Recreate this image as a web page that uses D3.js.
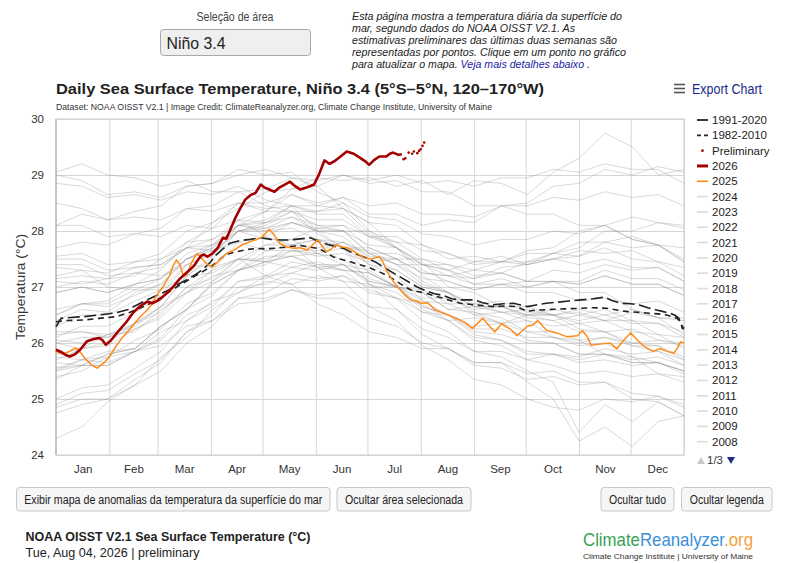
<!DOCTYPE html>
<html>
<head>
<meta charset="utf-8">
<script src="https://cdnjs.cloudflare.com/ajax/libs/d3/7.8.5/d3.min.js"></script>
<style>
  body { margin: 0; background: #fff; }
  svg { font-family: "Liberation Sans", Arial, sans-serif; display: block; }
</style>
</head>
<body>
<div id="chart"></div>
<script>
// ---- data (day of year, °C) ----
const monthNames = ["Jan","Feb","Mar","Apr","May","Jun","Jul","Aug","Sep","Oct","Nov","Dec"];
const monthStarts = [0,31,59,90,120,151,181,212,243,273,304,334,365];
const yTicks = [24,25,26,27,28,29,30];

const sst2026 = [[0,25.88],[3,25.84],[6,25.78],[8,25.76],[11,25.8],[14,25.88],[18,26.03],[22,26.07],[25,26.09],[27,26.05],[29,25.97],[32,26.05],[36,26.2],[41,26.38],[45,26.55],[49,26.66],[53,26.74],[56,26.71],[60,26.77],[64,26.88],[68,27.0],[72,27.15],[76,27.26],[80,27.37],[84,27.55],[86,27.58],[88,27.54],[91,27.6],[94,27.7],[97,27.88],[99,27.86],[101,28.0],[104,28.22],[107,28.4],[110,28.56],[113,28.64],[116,28.68],[119,28.83],[121,28.78],[124,28.74],[127,28.7],[130,28.78],[133,28.83],[136,28.88],[139,28.8],[142,28.74],[146,28.78],[150,28.83],[153,29.02],[156,29.26],[159,29.2],[162,29.25],[165,29.32],[169,29.42],[173,29.38],[177,29.3],[180,29.24],[182,29.18],[185,29.27],[188,29.33],[192,29.33],[194,29.38],[196,29.4],[199,29.36],[201,29.37]];
const prelim2026 = [[202,29.28],[203,29.3],[205,29.4],[207,29.38],[208,29.42],[210,29.39],[211,29.43],[212,29.46],[213,29.52],[214,29.58]];

const sst2025 = [[0,25.85],[4,25.8],[8,25.85],[11,25.91],[13,25.88],[17,25.72],[21,25.6],[24,25.55],[28,25.65],[31,25.75],[35,25.95],[39,26.11],[43,26.25],[47,26.4],[50,26.5],[53,26.59],[56,26.7],[58,26.83],[62,27.0],[66,27.2],[68,27.38],[70,27.48],[72,27.4],[74,27.2],[76,27.22],[79,27.45],[82,27.6],[85,27.5],[88,27.4],[91,27.36],[95,27.48],[99,27.6],[103,27.65],[108,27.75],[113,27.81],[117,27.85],[120,27.9],[124,28.03],[127,27.92],[130,27.78],[134,27.72],[138,27.69],[142,27.7],[146,27.66],[149,27.75],[152,27.84],[155,27.72],[157,27.63],[160,27.68],[163,27.75],[166,27.72],[169,27.7],[172,27.66],[175,27.6],[179,27.52],[183,27.5],[188,27.54],[190,27.45],[192,27.3],[196,27.1],[200,26.95],[203,26.85],[206,26.77],[210,26.75],[212,26.71],[216,26.72],[220,26.6],[223,26.56],[228,26.5],[233,26.44],[238,26.36],[242,26.26],[245,26.35],[248,26.44],[252,26.3],[255,26.2],[259,26.34],[264,26.25],[268,26.13],[271,26.22],[274,26.3],[277,26.32],[280,26.4],[285,26.23],[291,26.18],[297,26.11],[303,26.13],[306,26.22],[309,26.1],[311,25.96],[316,25.98],[322,26.0],[326,25.9],[330,26.05],[334,26.18],[338,26.05],[341,25.96],[344,25.9],[347,25.85],[351,25.9],[355,25.85],[359,25.82],[361,25.9],[363,26.02],[365,26.0]];

const clim9120 = [[0,26.29],[3,26.44],[10,26.46],[16,26.47],[25,26.5],[35,26.54],[42,26.6],[47,26.68],[55,26.8],[60,26.87],[66,26.95],[71,27.05],[76,27.13],[81,27.22],[86,27.33],[90,27.45],[93,27.57],[97,27.68],[101,27.78],[107,27.83],[113,27.85],[119,27.88],[125,27.85],[130,27.84],[136,27.84],[142,27.86],[148,27.88],[153,27.81],[158,27.76],[163,27.72],[168,27.68],[171,27.63],[176,27.57],[181,27.51],[186,27.44],[190,27.36],[195,27.27],[200,27.18],[205,27.09],[210,27.0],[215,26.93],[220,26.88],[225,26.85],[230,26.79],[235,26.77],[243,26.77],[248,26.72],[254,26.68],[260,26.7],[266,26.71],[270,26.68],[274,26.65],[279,26.68],[285,26.71],[292,26.73],[298,26.75],[305,26.77],[312,26.79],[319,26.82],[323,26.76],[328,26.71],[334,26.7],[339,26.68],[344,26.63],[349,26.59],[353,26.56],[357,26.53],[360,26.49],[362,26.44],[364,26.29],[365,26.27]];
const clim8210 = [[0,26.38],[5,26.4],[16,26.41],[25,26.44],[35,26.47],[43,26.55],[51,26.65],[57,26.74],[62,26.83],[66,26.92],[70,27.0],[75,27.09],[80,27.18],[85,27.27],[90,27.36],[97,27.54],[101,27.6],[105,27.63],[111,27.67],[117,27.69],[122,27.68],[130,27.7],[136,27.72],[142,27.74],[148,27.71],[152,27.69],[157,27.62],[161,27.54],[166,27.49],[171,27.45],[176,27.4],[181,27.36],[188,27.27],[194,27.18],[200,27.06],[206,26.95],[210,26.92],[215,26.89],[220,26.84],[225,26.8],[230,26.75],[235,26.71],[243,26.68],[248,26.67],[254,26.65],[261,26.66],[268,26.65],[274,26.56],[277,26.58],[281,26.59],[288,26.6],[296,26.61],[305,26.62],[312,26.63],[320,26.62],[326,26.59],[332,26.56],[338,26.55],[345,26.53],[350,26.52],[355,26.5],[361,26.44],[363,26.38],[364,26.26],[365,26.25]];

// earlier years, read roughly every ~15 days
const grayDays = [0,15,30,46,61,76,91,106,122,137,152,167,182,198,213,228,243,259,274,289,304,319,335,350,365];
const grayYears = [1982,1983,1984,1985,1986,1987,1988,1989,1990,1991,1992,1993,1994,1995,1996,1997,1998,1999,2000,2001,2002,2003,2004,2005,2006,2007,2008,2009,2010,2011,2012,2013,2014,2015,2016,2017,2018,2019,2020,2021,2022,2023,2024];
const grayTemps = [
  [26.4,26.6,26.55,26.9,27.05,27.5,27.75,28.2,28.35,28.65,28.5,28.6,28.3,28.3,28.1,28.2,28.15,28.45,28.5,28.8,28.85,29.1,29.0,29.15,29.05],
  [29.0,28.9,28.65,28.7,28.6,28.8,28.85,29.1,29.0,29.05,28.7,28.5,28.0,27.7,27.2,26.9,26.5,26.35,26.05,26.0,25.8,25.8,25.7,25.75,25.6],
  [26.0,25.9,26.15,26.3,26.65,26.9,27.2,27.3,27.45,27.35,27.45,27.3,27.25,27.0,26.95,26.7,26.7,26.55,26.4,26.1,26.05,25.8,25.75,25.45,25.4],
  [25.4,25.5,25.75,25.85,26.2,26.4,26.75,26.9,27.1,27.05,27.2,27.1,27.05,26.8,26.7,26.4,26.45,26.35,26.5,26.4,26.5,26.4,26.4,26.15,26.1],
  [26.05,26.0,26.15,26.2,26.6,26.9,27.3,27.5,27.75,27.75,27.85,27.7,27.7,27.5,27.5,27.3,27.45,27.45,27.6,27.6,27.8,27.8,27.9,27.75,27.7],
  [27.7,27.8,27.75,27.95,28.05,28.4,28.45,28.7,28.75,28.95,28.9,29.0,28.85,28.9,28.7,28.7,28.45,28.45,28.3,28.3,28.1,28.1,27.85,27.75,27.45],
  [27.4,27.4,27.2,27.25,27.2,27.4,27.35,27.5,27.2,27.05,26.7,26.5,26.2,26.1,25.9,25.9,25.65,25.65,25.3,25.0,24.25,24.5,24.15,24.6,24.7],
  [24.3,24.5,24.95,25.25,25.75,26.1,26.6,26.9,27.2,27.25,27.4,27.3,27.25,27.0,26.9,26.6,26.65,26.55,26.6,26.5,26.6,26.5,26.6,26.45,26.4],
  [26.5,26.7,26.7,26.95,27.15,27.6,27.75,28.1,28.05,28.15,28.0,28.0,27.75,27.7,27.4,27.3,27.15,27.25,27.1,27.1,27.05,27.2,27.05,27.05,26.85],
  [26.9,27.0,26.9,27.05,27.15,27.5,27.7,28.1,28.2,28.45,28.35,28.4,28.15,28.1,27.75,27.6,27.4,27.45,27.45,27.6,27.7,28.0,28.0,28.15,28.05],
  [28.1,28.3,28.2,28.35,28.45,28.8,28.85,29.0,29.1,28.95,28.8,28.4,28.15,27.7,27.45,27.0,26.9,26.65,26.65,26.5,26.55,26.4,26.55,26.45,26.45],
  [26.5,26.7,26.75,27.05,27.3,27.8,28.05,28.5,28.5,28.65,28.45,28.4,27.95,27.7,27.4,27.3,27.05,27.05,26.9,26.9,26.75,26.8,26.7,26.75,26.55],
  [26.6,26.7,26.65,26.85,27.05,27.5,27.7,28.1,28.15,28.35,28.2,28.2,27.9,27.8,27.5,27.4,27.3,27.45,27.4,27.5,27.55,27.8,27.7,27.75,27.5],
  [27.55,27.6,27.4,27.45,27.5,27.8,27.85,28.1,28.0,28.05,27.85,27.8,27.4,27.2,26.75,26.5,26.15,26.05,25.8,25.8,25.7,25.8,25.65,25.65,25.5],
  [25.55,25.6,25.8,25.9,26.3,26.6,27.05,27.3,27.55,27.55,27.6,27.4,27.3,27.0,26.9,26.6,26.55,26.35,26.4,26.3,26.35,26.2,26.25,26.05,26.0],
  [26.0,26.1,26.1,26.35,26.65,27.2,27.55,28.1,28.35,28.75,28.8,29.0,28.9,29.0,28.85,28.9,28.8,28.95,28.95,29.1,29.05,29.2,29.1,29.1,28.85],
  [28.85,28.8,28.6,28.65,28.55,28.7,28.65,28.8,28.55,28.45,28.0,27.7,27.05,26.6,26.15,25.9,25.6,25.55,25.35,25.4,25.25,25.3,25.1,25.05,24.85],
  [24.9,25.1,25.15,25.45,25.7,26.2,26.4,26.8,26.8,26.95,26.8,26.8,26.45,26.3,26.0,25.9,25.65,25.65,25.45,25.5,25.3,25.3,25.0,24.95,24.7],
  [24.75,24.9,25.0,25.35,25.65,26.2,26.5,27.0,27.05,27.25,27.15,27.2,26.9,26.8,26.55,26.5,26.3,26.35,26.2,26.2,26.05,26.1,25.95,25.95,25.75],
  [25.8,25.9,25.95,26.25,26.45,26.9,27.1,27.5,27.5,27.65,27.6,27.7,27.4,27.3,27.0,26.9,26.65,26.65,26.5,26.5,26.4,26.5,26.35,26.35,26.2],
  [26.3,26.5,26.5,26.75,26.95,27.4,27.6,28.0,28.1,28.35,28.35,28.5,28.25,28.2,27.95,27.9,27.75,27.85,27.85,28.0,27.95,28.1,27.85,27.75,27.45],
  [27.5,27.5,27.3,27.35,27.4,27.7,27.65,27.8,27.65,27.65,27.55,27.6,27.45,27.5,27.25,27.2,27.05,27.15,27.0,27.1,27.05,27.2,27.05,27.05,26.85],
  [26.9,27.0,26.9,27.05,27.15,27.5,27.65,28.0,28.0,28.15,28.05,28.1,27.9,27.9,27.65,27.6,27.45,27.55,27.4,27.5,27.4,27.5,27.35,27.35,27.1],
  [27.15,27.2,27.15,27.35,27.4,27.7,27.85,28.2,28.15,28.25,28.0,27.9,27.5,27.3,27.0,26.9,26.7,26.75,26.55,26.5,26.25,26.2,25.95,25.85,25.6],
  [25.65,25.6,25.8,25.9,26.3,26.6,27.05,27.3,27.65,27.75,27.85,27.7,27.65,27.4,27.4,27.2,27.3,27.25,27.45,27.5,27.65,27.6,27.65,27.45,27.35],
  [27.35,27.3,27.0,26.95,26.95,27.2,27.25,27.5,27.45,27.55,27.35,27.3,26.95,26.8,26.4,26.2,25.85,25.75,25.5,25.3,24.4,24.9,24.6,24.95,24.7],
  [24.85,25.0,25.0,25.25,25.5,26.0,26.3,26.8,26.9,27.15,27.1,27.2,27.0,27.0,26.8,26.8,26.6,26.65,26.45,26.4,26.2,26.2,26.0,25.95,25.7],
  [25.75,25.7,25.85,25.9,26.3,26.6,27.1,27.4,27.75,27.85,28.05,28.0,28.0,27.8,27.75,27.5,27.55,27.45,27.65,27.7,28.0,28.1,28.25,28.15,28.1],
  [28.1,28.1,27.9,27.95,27.9,28.1,28.05,28.2,27.9,27.75,27.35,27.1,26.65,26.4,25.95,25.7,25.35,25.25,25.0,24.85,24.8,25.0,24.95,25.05,24.9],
  [25.0,25.2,25.25,25.55,25.85,26.4,26.65,27.1,27.15,27.35,27.3,27.4,27.05,26.9,26.55,26.4,26.1,26.05,25.85,25.8,25.65,25.7,25.6,25.65,25.5],
  [25.55,25.7,25.75,26.05,26.25,26.7,26.9,27.3,27.4,27.65,27.65,27.8,27.6,27.6,27.4,27.4,27.2,27.25,27.1,27.1,26.9,26.9,26.6,26.45,26.15],
  [26.2,26.2,26.15,26.35,26.55,27.0,27.15,27.5,27.45,27.55,27.4,27.4,27.1,27.0,26.75,26.7,26.5,26.55,26.5,26.6,26.5,26.6,26.4,26.35,26.1],
  [26.15,26.2,26.1,26.25,26.5,27.0,27.3,27.8,27.9,28.15,28.0,28.0,27.6,27.4,27.15,27.1,26.95,27.05,27.1,27.3,27.25,27.4,27.3,27.35,27.1],
  [27.1,27.05,27.15,27.2,27.5,27.7,28.15,28.4,28.7,28.75,28.95,28.9,28.95,28.8,28.9,28.65,28.9,28.85,28.65,29.05,29.3,29.75,29.5,29.0,29.1],
  [29.05,29.2,29.0,28.95,28.8,28.9,28.7,28.7,28.45,28.35,27.95,27.7,27.25,27.0,26.65,26.5,26.25,26.25,26.1,26.1,26.0,26.1,26.0,26.05,25.95],
  [26.1,26.3,26.3,26.55,26.85,27.4,27.6,28.0,28.05,28.25,28.1,28.1,27.7,27.5,27.1,26.9,26.55,26.45,26.2,26.1,25.95,26.0,25.75,25.65,25.45],
  [25.5,25.7,25.65,25.85,26.1,26.6,26.85,27.3,27.45,27.75,27.7,27.8,27.55,27.5,27.25,27.2,27.15,27.35,27.4,27.6,27.55,27.7,27.5,27.45,27.2],
  [27.2,27.3,27.25,27.45,27.6,28.0,28.15,28.5,28.4,28.45,28.3,28.3,27.9,27.7,27.3,27.1,26.95,27.05,27.0,27.1,27.1,27.3,27.15,27.15,26.95],
  [27.0,27.1,27.05,27.25,27.35,27.7,27.75,28.0,27.85,27.85,27.6,27.5,27.15,27.0,26.6,26.4,26.05,25.95,25.7,25.6,25.45,25.5,25.4,25.45,25.3],
  [25.35,25.6,25.6,25.85,26.05,26.5,26.7,27.1,27.2,27.45,27.35,27.4,27.1,27.0,26.65,26.5,26.2,26.15,26.0,26.0,25.8,25.8,25.65,25.65,25.5],
  [25.5,25.6,25.6,25.85,25.95,26.3,26.4,26.7,26.75,26.95,26.85,26.9,26.65,26.6,26.25,26.1,25.85,25.85,25.7,25.8,25.75,25.9,25.8,25.85,25.7],
  [25.7,25.9,26.0,26.35,26.65,27.2,27.5,28.0,28.15,28.45,28.45,28.6,28.45,28.5,28.3,28.3,28.25,28.45,28.45,28.6,28.55,28.7,28.6,28.65,28.45],
  [28.5,28.4,28.2,28.25,28.2,28.4,28.35,28.5,28.35,28.35,28.1,28.0,27.6,27.4,27.05,26.9,26.65,26.65,26.5,26.5,26.35,26.4,26.2,26.15,25.9]
];

const legendItems = ["1991-2020","1982-2010","Preliminary","2026","2025","2024","2023","2022","2021","2020","2019","2018","2017","2016","2015","2014","2013","2012","2011","2010","2009","2008"];

// ---- layout ----
const W = 790, H = 563;
const plot = { left: 56, right: 684, top: 119, bottom: 455 };

const svg = d3.select("#chart").append("svg").attr("width", W).attr("height", H);

const x = d3.scaleLinear().domain([0, 365]).range([plot.left, plot.right]);
const y = d3.scaleLinear().domain([24, 30]).range([plot.bottom, plot.top]);

// small helper for fixed-width texts
function label(xx, yy, str, size, width, opts = {}) {
  const t = svg.append("text").attr("x", xx).attr("y", yy).attr("font-size", size)
    .attr("fill", opts.fill || "#222").text(str);
  if (width) t.attr("textLength", width).attr("lengthAdjust", "spacingAndGlyphs");
  if (opts.bold) t.attr("font-weight", "bold");
  if (opts.italic) t.attr("font-style", "italic");
  if (opts.anchor) t.attr("text-anchor", opts.anchor);
  return t;
}

// header: area selector + description
label(235, 20.5, "Seleção de área", 12, 77, { fill: "#444", anchor: "middle" });
svg.append("rect").attr("x", 160.5).attr("y", 29.5).attr("width", 150).attr("height", 26).attr("rx", 3)
  .attr("fill", "#efefef").attr("stroke", "#a9a9a9");
label(166.5, 48.5, "Niño 3.4", 17, 59);

const descLines = [
  ["Esta página mostra a temperatura diária da superfície do", 270],
  ["mar, segundo dados do NOAA OISST V2.1. As", 223],
  ["estimativas preliminares das últimas duas semanas são", 265],
  ["representadas por pontos. Clique em um ponto no gráfico", 274]
];
descLines.forEach(([t, w], i) => label(352, 20 + i * 12, t, 11, w, { italic: true }));
const last = label(352, 68, "", 11, 238, { italic: true });
last.append("tspan").text("para atualizar o mapa. ");
last.append("tspan").attr("fill", "#1a1aa6").text("Veja mais detalhes abaixo");
last.append("tspan").text(" .");

// chart title
label(56, 94, "Daily Sea Surface Temperature, Niño 3.4 (5°S–5°N, 120–170°W)", 15.5, 488, { bold: true });
label(56, 110, "Dataset: NOAA OISST V2.1 | Image Credit: ClimateReanalyzer.org, Climate Change Institute, University of Maine", 9.5, 436, { fill: "#333" });

// export menu
[84.5, 88.5, 92.5].forEach(yy => {
  svg.append("line").attr("x1", 674).attr("x2", 685).attr("y1", yy).attr("y2", yy)
    .attr("stroke", "#555").attr("stroke-width", 1.6);
});
label(692, 94, "Export Chart", 14, 70, { fill: "#1c2a8a" });

// grid
svg.append("g")
  .attr("transform", `translate(0,${plot.bottom})`)
  .call(d3.axisBottom(x).tickValues(monthStarts).tickSize(-(plot.bottom - plot.top)).tickFormat(""))
  .call(g => g.select(".domain").remove())
  .call(g => g.selectAll("line").attr("stroke", "#d6d6d6"));

svg.append("g")
  .attr("transform", `translate(${plot.left},0)`)
  .call(d3.axisLeft(y).tickValues(yTicks).tickSize(-(plot.right - plot.left)).tickFormat(""))
  .call(g => g.select(".domain").remove())
  .call(g => g.selectAll("line").attr("stroke", "#d6d6d6"));

svg.append("rect").attr("x", plot.left).attr("y", plot.top)
  .attr("width", plot.right - plot.left).attr("height", plot.bottom - plot.top)
  .attr("fill", "none").attr("stroke", "#cfcfcf");
svg.append("line").attr("x1", plot.left).attr("x2", plot.left).attr("y1", plot.top).attr("y2", plot.bottom)
  .attr("stroke", "#c4c4c4").attr("stroke-width", 2);

// axes labels
svg.append("g")
  .attr("transform", `translate(${plot.left - 9},0)`)
  .call(d3.axisLeft(y).tickValues(yTicks).tickSize(0).tickFormat(d3.format("d")))
  .call(g => g.select(".domain").remove())
  .call(g => g.selectAll("text").attr("font-size", 11.5).attr("fill", "#333")
    .attr("font-family", "'Liberation Sans', Arial, sans-serif"));

const monthMids = monthNames.map((m, i) => (monthStarts[i] + monthStarts[i + 1]) / 2);
svg.append("g")
  .attr("transform", `translate(0,${plot.bottom + 7})`)
  .call(d3.axisBottom(x).tickValues(monthMids).tickSize(0).tickFormat((d, i) => monthNames[i]))
  .call(g => g.select(".domain").remove())
  .call(g => g.selectAll("text").attr("font-size", 11.5).attr("fill", "#333")
    .attr("font-family", "'Liberation Sans', Arial, sans-serif"));

svg.append("text")
  .attr("transform", "translate(25,287) rotate(-90)")
  .attr("text-anchor", "middle").attr("font-size", 13.5).attr("fill", "#333")
  .attr("textLength", 106).attr("lengthAdjust", "spacingAndGlyphs")
  .text("Temperatura (°C)");

// series
const line = d3.line().x(d => x(d[0])).y(d => y(d[1]));
const series = svg.append("g");

series.selectAll(".gray")
  .data(grayTemps)
  .enter()
  .append("path")
  .attr("class", "gray")
  .attr("d", temps => line(temps.map((t, i) => [grayDays[i], t])))
  .attr("fill", "none")
  .attr("stroke", "#8a8a8a")
  .attr("stroke-opacity", 0.32)
  .attr("stroke-width", 1);

series.append("path").attr("d", line(clim8210)).attr("fill", "none")
  .attr("stroke", "#222").attr("stroke-width", 1.6).attr("stroke-dasharray", "6,4.5");
series.append("path").attr("d", line(clim9120)).attr("fill", "none")
  .attr("stroke", "#222").attr("stroke-width", 1.6).attr("stroke-dasharray", "12,4.5");

series.append("path").attr("d", line(sst2025)).attr("fill", "none")
  .attr("stroke", "#ff8c1a").attr("stroke-width", 1.5);
series.append("path").attr("d", line(sst2026)).attr("fill", "none")
  .attr("stroke", "#a50000").attr("stroke-width", 2.6).attr("stroke-linejoin", "round");

series.selectAll(".prelim")
  .data(prelim2026)
  .enter()
  .append("circle")
  .attr("class", "prelim")
  .attr("cx", d => x(d[0]))
  .attr("cy", d => y(d[1]))
  .attr("r", 1.3)
  .attr("fill", "#a50000");

// legend
const legend = svg.append("g");
const rowY = i => 120 + i * 15.32;
legendItems.forEach((name, i) => {
  const yy = rowY(i);
  const sym = legend.append("line").attr("x1", 697).attr("x2", 708).attr("y1", yy).attr("y2", yy);
  if (name === "1991-2020") {
    sym.attr("stroke", "#222").attr("stroke-width", 1.8);
  } else if (name === "1982-2010") {
    sym.attr("stroke", "#222").attr("stroke-width", 1.8).attr("stroke-dasharray", "4,3");
  } else if (name === "Preliminary") {
    sym.remove();
    legend.append("circle").attr("cx", 702.5).attr("cy", yy).attr("r", 1.3).attr("fill", "#a50000");
  } else if (name === "2026") {
    sym.attr("stroke", "#a50000").attr("stroke-width", 3);
  } else if (name === "2025") {
    sym.attr("stroke", "#ff8c1a").attr("stroke-width", 1.6);
  } else {
    sym.attr("stroke", "#dcdcdc").attr("stroke-width", 1.6);
  }
  legend.append("text").attr("x", 712).attr("y", yy + 4).attr("font-size", 11.5).attr("fill", "#222")
    .text(name);
});
legend.append("path").attr("d", "M697,464 L701,457 L705,464 Z").attr("fill", "#c8c8c8");
legend.append("text").attr("x", 707).attr("y", 464).attr("font-size", 11.5).attr("fill", "#333").text("1/3");
legend.append("path").attr("d", "M727,457 L735,457 L731,464 Z").attr("fill", "#1c2a8a");

// buttons
const buttons = [
  ["Exibir mapa de anomalias da temperatura da superfície do mar", 16.5, 330, 298],
  ["Ocultar área selecionada", 337, 471, 118],
  ["Ocultar tudo", 601, 674, 57],
  ["Ocultar legenda", 681.5, 772, 74]
];
buttons.forEach(([txt, x0, x1, tw]) => {
  svg.append("rect").attr("x", x0).attr("y", 487.5).attr("width", x1 - x0).attr("height", 23.5)
    .attr("rx", 3).attr("fill", "#f6f6f6").attr("stroke", "#c8c8c8");
  label((x0 + x1) / 2, 503.5, txt, 12, tw, { anchor: "middle" });
});

// footer
label(25.5, 541, "NOAA OISST V2.1 Sea Surface Temperature (°C)", 13, 285, { bold: true });
label(25.5, 557, "Tue, Aug 04, 2026 | preliminary", 13, 174);

const logo = label(583, 546, "", 18.5, 170);
logo.append("tspan").attr("fill", "#37a257").text("Climate");
logo.append("tspan").attr("fill", "#3b8fd8").text("Reanalyzer");
logo.append("tspan").attr("fill", "#f2a23a").text(".org");
label(583, 559, "Climate Change Institute | University of Maine", 7.5, 170, { fill: "#333" });
</script>
</body>
</html>
